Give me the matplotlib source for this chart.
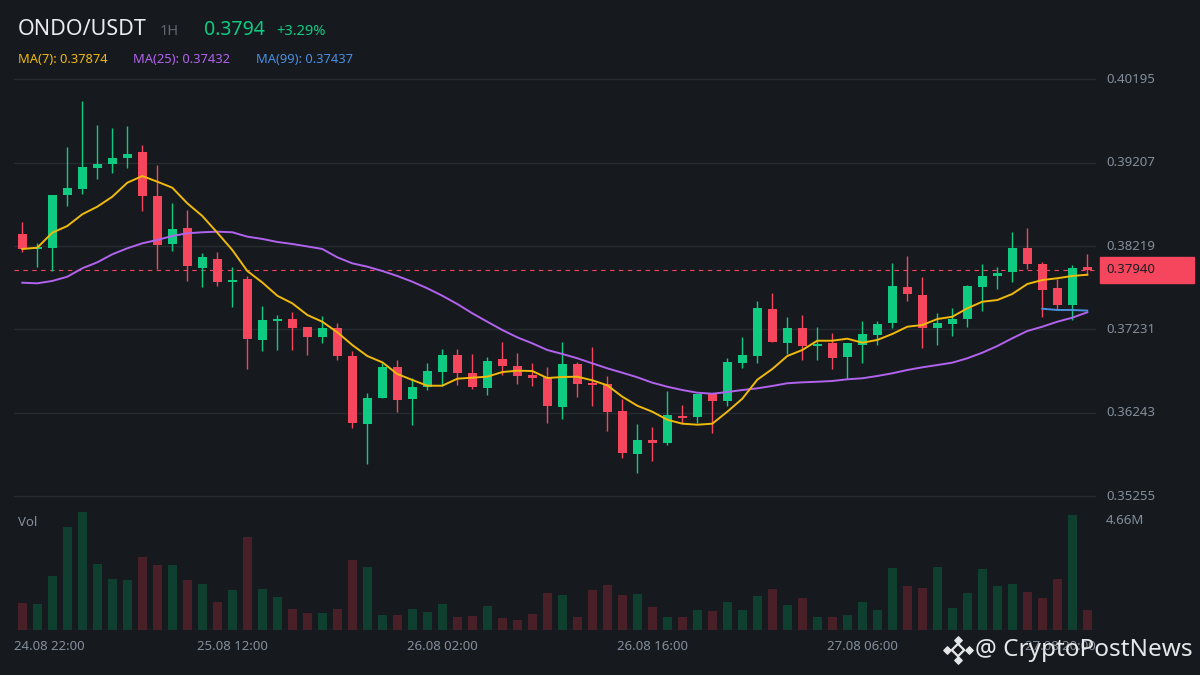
import matplotlib
matplotlib.use("Agg")
import matplotlib.pyplot as plt
from matplotlib import transforms
from matplotlib.patches import Rectangle
import numpy as np

plt.rcParams['font.family'] = ['Noto Sans', 'DejaVu Sans']

# ---------------- data ----------------
symbol = "ONDO/USDT"
interval = "1H"
last_price_text = "0.3794"
change_text = "+3.29%"
last_price = 0.37940
ma_labels = ["MA(7): 0.37874", "MA(25): 0.37432", "MA(99): 0.37437"]

opens = [0.38362, 0.38185, 0.38200, 0.38824, 0.38895, 0.39144, 0.39195, 0.39263, 0.39334, 0.38812,
         0.38244, 0.38433, 0.37959, 0.38066, 0.37794, 0.37829, 0.37107, 0.37332, 0.37355, 0.37260,
         0.37146, 0.37249, 0.36917, 0.36115, 0.36423, 0.36787, 0.36411, 0.36546, 0.36731, 0.36929,
         0.36715, 0.36541, 0.36881, 0.36798, 0.36690, 0.36670, 0.36316, 0.36822, 0.36597, 0.36585,
         0.36265, 0.35760, 0.35922, 0.35890, 0.36206, 0.36198, 0.36467, 0.36387, 0.36838, 0.36920,
         0.37474, 0.37075, 0.37249, 0.37035, 0.37071, 0.36905, 0.37047, 0.37166, 0.37308, 0.37734,
         0.37640, 0.37249, 0.37296, 0.37355, 0.37734, 0.37865, 0.37912, 0.38196, 0.38007, 0.37723,
         0.37521, 0.37971]
highs = [0.38504, 0.38252, 0.38826, 0.39393, 0.39938, 0.39654, 0.39618, 0.39642, 0.39417, 0.39180,
         0.38730, 0.38647, 0.38137, 0.38149, 0.37971, 0.37865, 0.37509, 0.37403, 0.37438, 0.37265,
         0.37391, 0.37308, 0.36976, 0.36479, 0.36830, 0.36869, 0.36656, 0.36834, 0.37000, 0.37000,
         0.36941, 0.36905, 0.37083, 0.36952, 0.36834, 0.36787, 0.37083, 0.36846, 0.37024, 0.36678,
         0.36408, 0.36111, 0.36076, 0.36502, 0.36336, 0.36470, 0.36470, 0.36893, 0.37142, 0.37569,
         0.37663, 0.37379, 0.37403, 0.37260, 0.37190, 0.37071, 0.37332, 0.37332, 0.38019, 0.38102,
         0.37853, 0.37426, 0.37486, 0.37758, 0.38007, 0.37971, 0.38386, 0.38433, 0.38031, 0.37829,
         0.37995, 0.38125]
lows = [0.38153, 0.37975, 0.37927, 0.38698, 0.38840, 0.39014, 0.39085, 0.39144, 0.38635, 0.37944,
        0.38161, 0.37806, 0.37734, 0.37746, 0.37497, 0.36763, 0.36976, 0.36992, 0.36992, 0.36932,
        0.37075, 0.36873, 0.36068, 0.35641, 0.36423, 0.36257, 0.36103, 0.36518, 0.36562, 0.36577,
        0.36530, 0.36459, 0.36694, 0.36589, 0.36562, 0.36127, 0.36174, 0.36435, 0.36328, 0.36032,
        0.35712, 0.35534, 0.35677, 0.35866, 0.36127, 0.36127, 0.36008, 0.36328, 0.36778, 0.36838,
        0.37086, 0.36941, 0.36873, 0.36869, 0.36763, 0.36645, 0.36834, 0.37047, 0.37249, 0.37569,
        0.37012, 0.37047, 0.37154, 0.37260, 0.37450, 0.37711, 0.37794, 0.37944, 0.37379, 0.37462,
        0.37343, 0.37877]
closes = [0.38185, 0.38212, 0.38824, 0.38907, 0.39156, 0.39195, 0.39263, 0.39310, 0.38812, 0.38232,
          0.38422, 0.37983, 0.38090, 0.37794, 0.37817, 0.37118, 0.37343, 0.37355, 0.37252, 0.37146,
          0.37249, 0.36920, 0.36127, 0.36419, 0.36787, 0.36399, 0.36550, 0.36739, 0.36929, 0.36719,
          0.36553, 0.36858, 0.36802, 0.36682, 0.36655, 0.36328, 0.36822, 0.36589, 0.36573, 0.36257,
          0.35771, 0.35922, 0.35890, 0.36218, 0.36186, 0.36467, 0.36387, 0.36846, 0.36929, 0.37486,
          0.37086, 0.37249, 0.37035, 0.37059, 0.36893, 0.37071, 0.37178, 0.37296, 0.37746, 0.37651,
          0.37249, 0.37308, 0.37355, 0.37746, 0.37865, 0.37900, 0.38196, 0.38007, 0.37699, 0.37521,
          0.37959, 0.37940]
ma7 = [0.38185, 0.38200, 0.38378, 0.38457, 0.38596, 0.38686, 0.38804, 0.38970, 0.39049, 0.38982,
       0.38911, 0.38726, 0.38576, 0.38378, 0.38173, 0.37924, 0.37788, 0.37631, 0.37541, 0.37403,
       0.37323, 0.37198, 0.37047, 0.36917, 0.36842, 0.36704, 0.36633, 0.36565, 0.36565, 0.36648,
       0.36660, 0.36672, 0.36727, 0.36743, 0.36739, 0.36656, 0.36668, 0.36672, 0.36629, 0.36570,
       0.36435, 0.36328, 0.36257, 0.36162, 0.36115, 0.36103, 0.36115, 0.36257, 0.36411, 0.36636,
       0.36763, 0.36917, 0.36988, 0.37098, 0.37098, 0.37122, 0.37075, 0.37107, 0.37178, 0.37264,
       0.37284, 0.37355, 0.37382, 0.37482, 0.37560, 0.37580, 0.37652, 0.37770, 0.37817, 0.37838,
       0.37865, 0.37880]
ma25 = [0.37785, 0.37778, 0.37806, 0.37856, 0.37956, 0.38027, 0.38122, 0.38193, 0.38252, 0.38292,
        0.38339, 0.38371, 0.38383, 0.38390, 0.38383, 0.38331, 0.38304, 0.38268, 0.38244, 0.38215,
        0.38185, 0.38086, 0.38015, 0.37975, 0.37924, 0.37865, 0.37797, 0.37719, 0.37631, 0.37533,
        0.37423, 0.37323, 0.37225, 0.37138, 0.37067, 0.36988, 0.36941, 0.36890, 0.36830, 0.36771,
        0.36719, 0.36665, 0.36601, 0.36553, 0.36514, 0.36482, 0.36470, 0.36490, 0.36514, 0.36534,
        0.36562, 0.36594, 0.36605, 0.36612, 0.36621, 0.36641, 0.36653, 0.36680, 0.36712, 0.36751,
        0.36783, 0.36810, 0.36838, 0.36890, 0.36956, 0.37035, 0.37127, 0.37213, 0.37264, 0.37323,
        0.37371, 0.37435]
ma99_start = 68
ma99 = [0.37477, 0.37462, 0.37462, 0.37455]
volumes_m = [1.07, 1.03, 2.13, 4.07, 4.66, 2.61, 2.01, 1.97, 2.88, 2.57,
             2.57, 1.97, 1.82, 1.11, 1.58, 3.67, 1.62, 1.30, 0.83, 0.67,
             0.67, 0.83, 2.76, 2.49, 0.59, 0.59, 0.83, 0.71, 1.03, 0.51,
             0.55, 0.95, 0.47, 0.39, 0.63, 1.46, 1.38, 0.51, 1.58, 1.78,
             1.38, 1.42, 0.91, 0.51, 0.51, 0.79, 0.75, 1.11, 0.79, 1.34,
             1.62, 0.99, 1.26, 0.51, 0.51, 0.59, 1.11, 0.79, 2.45, 1.74,
             1.66, 2.49, 0.87, 1.46, 2.41, 1.74, 1.82, 1.50, 1.26, 2.01,
             4.54, 0.79]
price_ticks = [0.40195, 0.39207, 0.38219, 0.37231, 0.36243, 0.35255]
vol_label = "4.66M"
time_labels = ["24.08 22:00", "25.08 12:00", "26.08 02:00", "26.08 16:00", "27.08 06:00", "27.08 20:00"]
time_label_idx = [0, 14, 28, 42, 56, 70]

# ---------------- style ----------------
BG = '#161a1e'
GRID = '#262a31'
UP = '#0ecb81'
DOWN = '#f6465d'
VUP = '#0f3f2e'
VDOWN = '#4a2028'
YEL = '#f0b90b'
PUR = '#b163ee'
BLUE = '#4a8fe2'
TXT = '#848e9c'

W, H = 1200, 675
fig = plt.figure(figsize=(12, 6.75), dpi=100)
fig.patch.set_facecolor(BG)

def fx(px):
    return px / W

def fy(py):
    return 1 - py / H

L_PX, R_PX = 14, 1096
ax = fig.add_axes([fx(L_PX), fy(500), (R_PX - L_PX) / W, (500 - 65) / H])
axv = fig.add_axes([fx(L_PX), fy(630), (R_PX - L_PX) / W, (630 - 505) / H])
for a in (ax, axv):
    a.set_facecolor(BG)
    for s in a.spines.values():
        s.set_visible(False)
    a.tick_params(left=False, right=False, bottom=False, top=False,
                  labelleft=False, labelbottom=False)

n = len(closes)
x = np.arange(n)
o = np.array(opens); c = np.array(closes); h = np.array(highs); l = np.array(lows)
up = c >= o
cols = [UP if u else DOWN for u in up]

xlim = (-0.553, 71.58)
ax.set_xlim(*xlim)
axv.set_xlim(*xlim)
ax.set_ylim(0.35211, 0.403645)

# grid lines
for p in price_ticks:
    ax.axhline(p, color=GRID, lw=1.0, zorder=0)

# candles
ax.vlines(x, l, h, colors=cols, linewidth=1.0, zorder=2)
body_b = np.minimum(o, c)
body_h = np.maximum(np.abs(c - o), 0.00013)
ax.bar(x, body_h, bottom=body_b, width=0.6, color=cols, linewidth=0, zorder=3)

# moving averages
ax.plot(x, ma25, color=PUR, lw=1.4, zorder=4)
ax.plot(x, ma7, color=YEL, lw=1.4, zorder=5)
ax.plot(x[ma99_start:], ma99, color=BLUE, lw=1.4, zorder=4)

# last price line
ax.axhline(last_price, color=DOWN, lw=0.8, ls=(0, (4, 4)), zorder=1)

# right price labels
tr = transforms.blended_transform_factory(ax.transAxes, ax.transData)
lab_x = (1106 - L_PX) / (R_PX - L_PX)
for p in price_ticks:
    ax.text(lab_x, p, f"{p:.5f}", transform=tr, color=TXT, fontsize=9.5,
            va='center', ha='left', clip_on=False)
box_h = 26 * (0.403645 - 0.35211) / 435
ax.add_patch(Rectangle(((1100 - L_PX) / (R_PX - L_PX), last_price - box_h / 2),
                       94 / (R_PX - L_PX), box_h, transform=tr, color=DOWN,
                       clip_on=False, zorder=6))
ax.text(lab_x, last_price, f"{last_price:.5f}", transform=tr, color='#1a1d22',
        fontsize=9.5, va='center', ha='left', clip_on=False, zorder=7)

# volume
vcols = [VUP if u else VDOWN for u in up]
axv.bar(x, volumes_m, width=0.6, color=vcols, linewidth=0)
axv.set_ylim(0, 125 / 118 * 4.66)
axv.axhline(0, color='#2b2f36', lw=1.0)
fig.text(fx(18), fy(522), "Vol", color=TXT, fontsize=9.5, va='center', ha='left')
fig.text(fx(1106), fy(521), vol_label, color=TXT, fontsize=9.5, va='center', ha='left')

# time labels
trv = transforms.blended_transform_factory(axv.transData, axv.transAxes)
trva = axv.transAxes
for lab, idx in zip(time_labels, time_label_idx):
    if idx == time_label_idx[0]:
        axv.text(0.0, -0.136, lab, transform=trva, color=TXT, fontsize=9.5,
                 ha='left', va='center', clip_on=False)
    elif idx == time_label_idx[-1]:
        axv.text(1.0, -0.136, lab, transform=trva, color=TXT, fontsize=9.5,
                 ha='right', va='center', clip_on=False)
    else:
        axv.text(idx, -0.136, lab, transform=trv, color=TXT, fontsize=9.5,
                 ha='center', va='center', clip_on=False)

# header
fig.text(fx(18), fy(35), symbol, color='#eaecef', fontsize=15.5, ha='left', va='baseline')
fig.text(fx(160), fy(35), interval, color='#5e6673', fontsize=10.5, ha='left', va='baseline')
fig.text(fx(204), fy(35), last_price_text, color=UP, fontsize=14, ha='left', va='baseline')
fig.text(fx(276), fy(35), change_text, color=UP, fontsize=10.5, ha='left', va='baseline')
for lab, xp, col in zip(ma_labels, [18, 133, 256], [YEL, PUR, BLUE]):
    fig.text(fx(xp), fy(63), lab, color=col, fontsize=9.3, ha='left', va='baseline')

# watermark
wm = fig.add_axes([fx(940), fy(666), 36 / W, 32 / H])
wm.set_xlim(-1, 1); wm.set_ylim(-1, 1); wm.axis('off')
wm.scatter([0], [0], marker='D', s=40, facecolor='none', edgecolor='#e6e7e9', linewidth=1.6)
wm.scatter([-0.62, 0.62], [0, 0], marker='D', s=14, color='#e6e7e9')
wm.scatter([0, 0], [0.62, -0.62], marker='D', s=14, color='#e6e7e9')
fig.text(fx(975), fy(650), "@ CryptoPostNews", color='#e6e7e9', fontsize=17.5,
         ha='left', va='center', zorder=10)

fig.savefig("out.png", dpi=100, facecolor=BG)
